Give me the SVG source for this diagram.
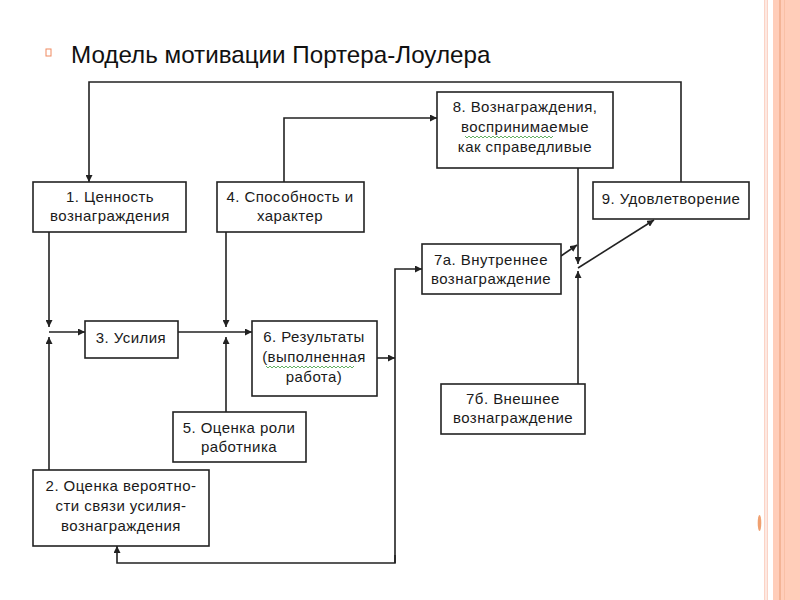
<svg xmlns="http://www.w3.org/2000/svg" width="800" height="600" viewBox="0 0 800 600">
<defs>
<style>
.box{fill:#fff;stroke:#222;stroke-width:1.6}
.t{font-family:"Liberation Sans",Arial,sans-serif;font-size:15px;fill:#1a1a1a;text-anchor:middle;letter-spacing:0.45px}
.c{fill:none;stroke:#222;stroke-width:1.6}
.sq{fill:none;stroke:#3c9a3c;stroke-width:0.8}
</style>
<marker id="ah" viewBox="0 0 10 10" refX="10" refY="5" markerWidth="7" markerHeight="7" markerUnits="userSpaceOnUse" orient="auto">
<path d="M0,0 L10,5 L0,10 z" fill="#222"/>
</marker>
</defs>
<rect width="800" height="600" fill="#fff"/>
<g id="border">
<rect x="764" y="0" width="1.5" height="600" fill="#fbd3c6"/>
<rect x="766.5" y="0" width="1.5" height="600" fill="#fbd3c6"/>
<rect x="773" y="0" width="27" height="600" fill="#ffcdb9"/>
<rect x="779" y="0" width="2" height="600" fill="#f4b496"/>
<rect x="784" y="0" width="1" height="600" fill="#f9c0a6"/>
<ellipse cx="759.5" cy="523" rx="1.8" ry="8" fill="#f0a070"/>
</g>
<g id="title">
<rect x="46" y="49" width="5" height="7" fill="none" stroke="#f08a60" stroke-width="1"/>
<text x="71" y="63" font-family="Liberation Sans, Arial, sans-serif" font-size="24.2" fill="#111">Модель мотивации Портера-Лоулера</text>
</g>
<g id="connectors">
<polyline class="c" points="681,182 681,82 89,82 89,182" marker-end="url(#ah)"/>
<polyline class="c" points="284,182 284,118 437,118" marker-end="url(#ah)"/>
<line class="c" x1="49" y1="232" x2="49" y2="327" marker-end="url(#ah)"/>
<line class="c" x1="49" y1="470" x2="49" y2="337" marker-end="url(#ah)"/>
<line class="c" x1="49" y1="332" x2="85" y2="332" marker-end="url(#ah)"/>
<line class="c" x1="178" y1="332" x2="252" y2="332" marker-end="url(#ah)"/>
<line class="c" x1="226" y1="232" x2="226" y2="327" marker-end="url(#ah)"/>
<line class="c" x1="226" y1="412" x2="226" y2="337" marker-end="url(#ah)"/>
<line class="c" x1="377" y1="358" x2="395" y2="358" marker-end="url(#ah)"/>
<polyline class="c" points="395,563 395,269 422,269" marker-end="url(#ah)"/>
<polyline class="c" points="395,555 395,563 117,563 117,546" marker-end="url(#ah)"/>
<line class="c" x1="578" y1="168" x2="578" y2="264" marker-end="url(#ah)"/>
<line class="c" x1="578" y1="384" x2="578" y2="271" marker-end="url(#ah)"/>
<line class="c" x1="561" y1="256" x2="577" y2="245" marker-end="url(#ah)"/>
<line class="c" x1="578" y1="268" x2="654" y2="220" marker-end="url(#ah)"/>
</g>
<g id="n1"><rect class="box" x="33" y="182" width="153" height="50"/><text class="t" x="110" y="202">1. Ценность</text><text class="t" x="110" y="221">вознаграждения</text></g>
<g id="n4"><rect class="box" x="217" y="182" width="147" height="50"/><text class="t" x="290" y="202">4. Способность и</text><text class="t" x="290" y="221">характер</text></g>
<g id="n8"><rect class="box" x="437" y="92" width="176" height="76"/><text class="t" x="525" y="112">8. Вознаграждения,</text><text class="t" x="525" y="132">воспринимаемые</text><path class="sq" d="M465,136 l2,2 2,-2 2,2 2,-2 2,2 2,-2 2,2 2,-2 2,2 2,-2 2,2 2,-2 2,2 2,-2 2,2 2,-2 2,2 2,-2 2,2 2,-2 2,2 2,-2 2,2 2,-2 2,2 2,-2 2,2 2,-2 2,2 2,-2 2,2 2,-2 2,2 2,-2 2,2 2,-2 2,2 2,-2 2,2 2,-2 2,2 2,-2 2,2 2,-2"/><text class="t" x="525" y="152">как справедливые</text></g>
<g id="n9"><rect class="box" x="593" y="182" width="156" height="37"/><text class="t" x="671" y="204">9. Удовлетворение</text></g>
<g id="n7a"><rect class="box" x="422" y="244" width="139" height="50"/><text class="t" x="491" y="265">7а. Внутреннее</text><text class="t" x="491" y="284">вознаграждение</text></g>
<g id="n3"><rect class="box" x="85" y="321" width="93" height="37"/><text class="t" x="131" y="343">3. Усилия</text></g>
<g id="n6"><rect class="box" x="252" y="321" width="125" height="75"/><text class="t" x="314" y="342">6. Результаты</text><text class="t" x="314" y="362">(выполненная</text><path class="sq" d="M266,366 l2,2 2,-2 2,2 2,-2 2,2 2,-2 2,2 2,-2 2,2 2,-2 2,2 2,-2 2,2 2,-2 2,2 2,-2 2,2 2,-2 2,2 2,-2 2,2 2,-2 2,2 2,-2 2,2 2,-2 2,2 2,-2 2,2 2,-2 2,2 2,-2 2,2 2,-2 2,2 2,-2 2,2 2,-2 2,2 2,-2 2,2 2,-2 2,2 2,-2"/><text class="t" x="314" y="382">работа)</text></g>
<g id="n7b"><rect class="box" x="441" y="384" width="144" height="50"/><text class="t" x="513" y="404">7б. Внешнее</text><text class="t" x="513" y="423">вознаграждение</text></g>
<g id="n5"><rect class="box" x="173" y="412" width="133" height="50"/><text class="t" x="239" y="433">5. Оценка роли</text><text class="t" x="239" y="452">работника</text></g>
<g id="n2"><rect class="box" x="33" y="470" width="176" height="76"/><text class="t" x="121" y="491">2. Оценка вероятно-</text><text class="t" x="121" y="511">сти связи усилия-</text><text class="t" x="121" y="531">вознаграждения</text></g>
</svg>
